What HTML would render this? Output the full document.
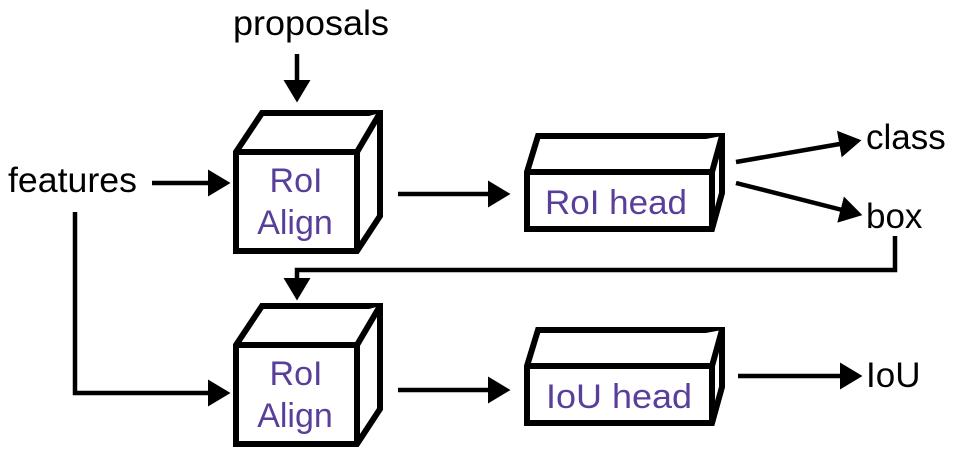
<!DOCTYPE html>
<html><head><style>body{margin:0;background:#fff}svg{display:block}</style></head><body>
<svg width="955" height="457" viewBox="0 0 955 457" xmlns="http://www.w3.org/2000/svg">
<defs><marker id="a" markerWidth="6" markerHeight="6" refX="4" refY="3" orient="auto" markerUnits="strokeWidth"><path d="M0,0 L5,3 L0,6z" fill="#000"/></marker></defs>
<g fill="#fff" stroke="#000" stroke-width="6" stroke-linejoin="miter">
<path d="M236,152 L262,113 L380,113 L380,216 L357,251 L236,251z"/><path d="M236,152 L357,152 L380,113 M357,152 L357,251"/>
<path d="M236,345 L262,306 L380,306 L380,409 L357,444 L236,444z"/><path d="M236,345 L357,345 L380,306 M357,345 L357,444"/>
<path d="M527,172 L538,136 L722,136 L722,193 L712,229 L527,229z"/><path d="M527,172 L712,172 L722,136 M712,172 L712,229"/>
<path d="M527,366 L538,330 L722,330 L722,387 L712,423 L527,423z"/><path d="M527,366 L712,366 L722,330 M712,366 L712,423"/>
</g>
<g fill="none" stroke="#000" stroke-width="4.5" marker-end="url(#a)">
<path d="M297,54 L297,98"/>
<path d="M152,183 L226,183"/>
<path d="M398,194 L506,194"/>
<path d="M736,162 L857,141"/>
<path d="M736,183 L858,214"/>
<path d="M895,236 L895,270 L297,270 L297,296"/>
<path d="M75,212 L75,393 L226,393"/>
<path d="M398,390 L506,390"/>
<path d="M738,376 L858,376"/>
</g>
<g font-family="Liberation Sans, sans-serif" font-size="35" fill="#000">
<text x="311" y="35" text-anchor="middle" textLength="156" lengthAdjust="spacingAndGlyphs">proposals</text>
<text x="8" y="192" textLength="129" lengthAdjust="spacingAndGlyphs">features</text>
<text x="866" y="149">class</text>
<text x="866" y="228">box</text>
<text x="866" y="387">IoU</text>
</g>
<g font-family="Liberation Sans, sans-serif" font-size="34" fill="#5a3f9a" text-anchor="middle">
<text x="296" y="192">RoI</text><text x="295" y="234">Align</text>
<text x="296" y="385">RoI</text><text x="295" y="427">Align</text>
<text x="616" y="214" textLength="142" lengthAdjust="spacingAndGlyphs">RoI head</text>
<text x="619" y="408" textLength="146" lengthAdjust="spacingAndGlyphs">IoU head</text>
</g>
</svg>
</body></html>
